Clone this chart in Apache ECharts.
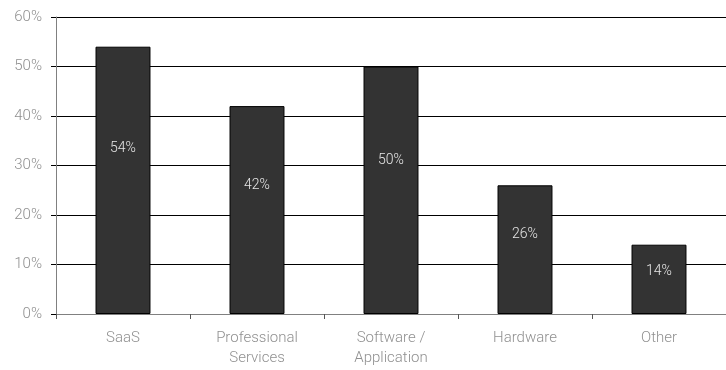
<!DOCTYPE html>
<html>
<head>
<meta charset="utf-8">
<style>
  html, body { margin: 0; padding: 0; background: #fff; }
  #chart { width: 726px; height: 370px; }
</style>
<script src="https://cdn.jsdelivr.net/npm/echarts@6/dist/echarts.min.js"></script>
</head>
<body>
<div id="chart"></div>
<script>
// Revenue mix by category (share of respondents, %)
const categories = ['SaaS', 'Professional\nServices', 'Software /\nApplication', 'Hardware', 'Other'];
const shares = [54, 42, 50, 26, 14];
const yTicks = [0, 10, 20, 30, 40, 50, 60];

const chart = echarts.init(document.getElementById('chart'), null, { renderer: 'canvas' });

const font = 'Roboto';

chart.setOption({
  animation: false,
  grid: { left: 56, right: 0, top: 17, bottom: 56, containLabel: false },
  xAxis: {
    type: 'category',
    data: categories,
    axisLine: { show: true, lineStyle: { color: '#808080', width: 1 } },
    axisTick: { show: true, alignWithLabel: false, length: 5, lineStyle: { color: '#555' } },
    axisLabel: {
      color: '#909090', fontFamily: font, fontWeight: 300, fontSize: 15,
      lineHeight: 20, margin: 14, interval: 0
    },
    splitLine: { show: false }
  },
  yAxis: {
    type: 'value',
    min: yTicks[0],
    max: yTicks[yTicks.length - 1],
    interval: 10,
    axisLine: { show: true, lineStyle: { color: '#808080', width: 1 } },
    axisTick: { show: true, length: 5, lineStyle: { color: '#000' } },
    axisLabel: {
      color: '#909090', fontFamily: font, fontWeight: 300, fontSize: 15, margin: 14,
      formatter: v => v + '%'
    },
    splitLine: { show: true, lineStyle: { color: '#000', width: 1 } }
  },
  series: [{
    type: 'bar',
    data: shares,
    barWidth: '41%',
    itemStyle: { color: '#333333', borderColor: '#000', borderWidth: 1 },
    label: {
      show: true,
      position: ['50%', '38%'],
      align: 'center',
      verticalAlign: 'middle',
      color: '#e6e6e6',
      fontFamily: font,
      fontWeight: 300,
      fontSize: 14,
      formatter: p => p.value + '%'
    }
  }]
});
</script>
</body>
</html>
